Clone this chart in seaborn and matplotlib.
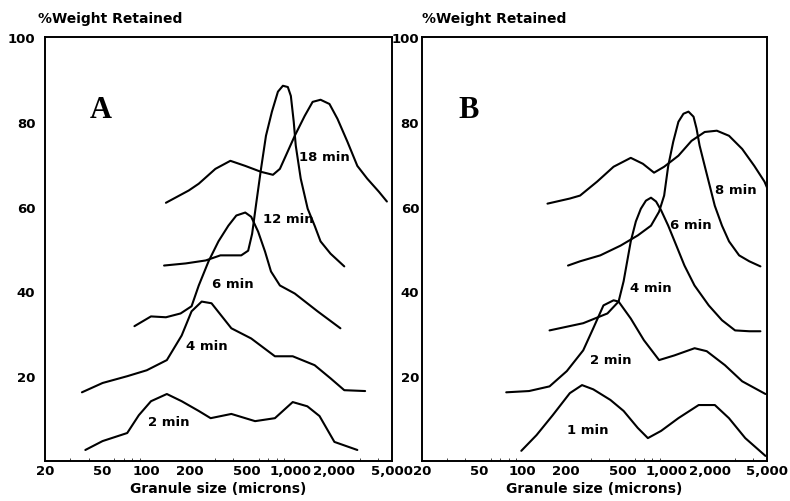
import pandas as pd
import numpy as np
import matplotlib
matplotlib.use('Agg')
import matplotlib.pyplot as plt
import seaborn as sns
from matplotlib.ticker import NullFormatter, FixedLocator

# Panel A  (granule size in microns, % weight retained)
a_2min_x = [38, 50, 74, 89, 108, 139, 176, 231, 279, 388, 566, 776, 1030, 1300, 1578, 2000, 2880]
a_2min_y = [2.6, 4.7, 6.6, 10.8, 14.1, 15.8, 14.1, 11.8, 10.1, 11.1, 9.4, 10.1, 13.9, 12.9, 10.6, 4.5, 2.6]

a_4min_x = [36, 50, 74, 101, 139, 176, 206, 242, 283, 388, 532, 776, 1030, 1460, 1880, 2340, 3260]
a_4min_y = [16.2, 18.4, 20.0, 21.4, 23.8, 29.6, 35.3, 37.6, 37.2, 31.3, 28.9, 24.7, 24.7, 22.6, 19.5, 16.7, 16.5]

a_6min_x = [83, 108, 137, 173, 206, 231, 270, 316, 370, 420, 484, 532, 594, 663, 729, 840, 1064, 1530, 2200]
a_6min_y = [31.8, 34.1, 33.9, 34.8, 36.5, 41.4, 47.1, 51.8, 55.5, 57.9, 58.6, 57.6, 54.1, 49.4, 44.7, 41.4, 39.5, 35.3, 31.3]

a_12min_x = [133, 188, 258, 326, 454, 507, 540, 576, 622, 673, 740, 814, 881, 953, 1000, 1047, 1081, 1170, 1307,
             1460, 1604, 1880, 2340]
a_12min_y = [46.1, 46.6, 47.3, 48.5, 48.5, 49.6, 53.6, 60.7, 68.9, 76.7, 82.4, 87.1, 88.5, 88.2, 86.1, 80.0, 74.4,
             66.6, 59.5, 55.5, 51.8, 48.9, 45.9]

a_18min_x = [137, 197, 231, 301, 382, 484, 622, 752, 840, 923, 1064, 1247, 1414, 1604, 1849, 2100, 2460, 2880,
             3370, 4060, 4610]
a_18min_y = [60.9, 63.8, 65.4, 68.9, 70.8, 69.6, 68.2, 67.5, 68.9, 72.0, 76.7, 81.4, 84.7, 85.2, 84.2, 80.7, 75.3,
             69.6, 66.6, 63.5, 61.2]

# Panel B
b_1min_x = [98, 125, 162, 213, 259, 310, 408, 504, 632, 743, 918, 1210, 1675, 2170, 2720, 3530, 4880]
b_1min_y = [2.4, 6.1, 10.8, 16.0, 17.9, 16.9, 14.4, 11.8, 7.8, 5.4, 7.1, 10.1, 13.2, 13.2, 10.1, 5.4, 1.2]

b_2min_x = [77, 111, 154, 203, 264, 310, 365, 429, 465, 565, 697, 889, 1135, 1570, 1905, 2550, 3360, 4880]
b_2min_y = [16.2, 16.5, 17.6, 21.2, 26.1, 31.3, 36.7, 37.9, 37.6, 33.6, 28.5, 23.8, 24.9, 26.6, 25.9, 22.6, 18.8, 15.8]

b_4min_x = [154, 264, 389, 465, 504, 565, 613, 664, 720, 781, 847, 919, 1029, 1172, 1334, 1567, 1968, 2433,
            3000, 3766, 4500]
b_4min_y = [30.8, 32.5, 34.8, 37.6, 42.4, 51.8, 56.5, 59.5, 61.4, 62.1, 61.2, 59.1, 55.5, 50.8, 46.1, 41.4, 36.7,
            33.2, 30.8, 30.6, 30.6]

b_6min_x = [207, 251, 347, 480, 632, 781, 889, 964, 1029, 1115, 1211, 1313, 1423, 1543, 1619, 1700, 1845, 2000,
            2168, 2433, 2723, 3200, 3766, 4500]
b_6min_y = [46.1, 47.1, 48.5, 50.8, 53.2, 55.5, 58.8, 62.6, 69.6, 75.3, 80.0, 81.9, 82.4, 81.2, 78.4, 74.4, 69.6,
            64.9, 60.2, 55.5, 51.8, 48.5, 47.1, 45.9]

b_8min_x = [149, 213, 251, 330, 429, 565, 686, 820, 964, 1211, 1493, 1845, 2240, 2723, 3360, 4080, 4800, 5000]
b_8min_y = [60.7, 61.9, 62.6, 65.9, 69.4, 71.5, 70.1, 68.0, 69.4, 72.0, 75.5, 77.6, 77.9, 76.7, 73.6, 69.6, 65.9,
            64.5]

# curve labels (text, x, y)
a_labels = [('2 min', 144, 9.2), ('4 min', 261, 27.3), ('6 min', 400, 41.9),
            ('12 min', 953, 57.2), ('18 min', 1710, 71.8)]
b_labels = [('1 min', 286, 7.5), ('2 min', 408, 24.0), ('4 min', 781, 40.9),
            ('6 min', 1470, 55.8), ('8 min', 3050, 64.0)]

x_ticks = [20, 50, 100, 200, 500, 1000, 2000, 5000]
x_ticklabels = ['20', '50', '100', '200', '500', '1,000', '2,000', '5,000']
y_ticks = [20, 40, 60, 80, 100]


def make_df(curves):
    rows = []
    for name, xs, ys in curves:
        for x, y in zip(xs, ys):
            rows.append({'size': x, 'pct': y, 'curve': name})
    return pd.DataFrame(rows)


df_a = make_df([('2', a_2min_x, a_2min_y), ('4', a_4min_x, a_4min_y),
                ('6', a_6min_x, a_6min_y), ('12', a_12min_x, a_12min_y),
                ('18', a_18min_x, a_18min_y)])
df_b = make_df([('1', b_1min_x, b_1min_y), ('2', b_2min_x, b_2min_y),
                ('4', b_4min_x, b_4min_y), ('6', b_6min_x, b_6min_y),
                ('8', b_8min_x, b_8min_y)])

sns.set_theme(style='white')
plt.rcParams['font.family'] = ['DejaVu Sans']
plt.rcParams['text.color'] = 'black'
plt.rcParams['axes.labelcolor'] = 'black'

fig = plt.figure(figsize=(7.9, 5.02), dpi=100)
W, H = 790, 502
ax_a = fig.add_axes([45 / W, 1 - 462 / H, (392 - 45) / W, (462 - 38) / H])
ax_b = fig.add_axes([422 / W, 1 - 462 / H, (767 - 422) / W, (462 - 38) / H])

for ax, df, labels, letter, ypad in [(ax_a, df_a, a_labels, 'A', 7), (ax_b, df_b, b_labels, 'B', 2)]:
    sns.lineplot(data=df, x='size', y='pct', units='curve', estimator=None,
                 sort=False, color='black', linewidth=1.5, ax=ax,
                 solid_joinstyle='round', solid_capstyle='round')
    ax.set_xscale('log')
    ax.set_xlim(20, 5000)
    ax.set_ylim(0, 100)
    ax.xaxis.set_major_locator(FixedLocator(x_ticks))
    ax.set_xticklabels(x_ticklabels)
    ax.xaxis.set_minor_formatter(NullFormatter())
    ax.set_yticks(y_ticks)
    ax.set_yticklabels([str(t) for t in y_ticks])
    ax.tick_params(axis='both', which='major', direction='in', length=3, width=0.8,
                   labelsize=9.5, colors='black')
    ax.tick_params(axis='x', which='minor', direction='in', length=2, width=0.6,
                   bottom=True)
    ax.tick_params(axis='x', which='major', pad=2)
    ax.tick_params(axis='y', which='major', pad=ypad)
    for lab in ax.get_xticklabels() + ax.get_yticklabels():
        lab.set_fontweight('bold')
    for sp in ax.spines.values():
        sp.set_visible(True)
        sp.set_color('black')
        sp.set_linewidth(1.4)
    ax.set_xlabel('Granule size (microns)', fontsize=10, fontweight='bold', labelpad=3,
                  color='black')
    ax.set_ylabel('')
    ax.set_facecolor('white')
    for txt, x, y in labels:
        ax.text(x, y, txt, fontsize=9.5, fontweight='bold', ha='center', va='center',
                color='black')
    ax.text(0.16 if letter == 'A' else 0.135, 0.83, letter, transform=ax.transAxes,
            fontsize=22, fontweight='bold', family=['Liberation Serif', 'DejaVu Serif'],
            ha='center', va='center', color='black')

fig.text(38 / W, 1 - 19 / H, '%Weight Retained', fontsize=10, fontweight='bold',
         ha='left', va='center', color='black')
fig.text(422 / W, 1 - 19 / H, '%Weight Retained', fontsize=10, fontweight='bold',
         ha='left', va='center', color='black')

fig.savefig('out.png', dpi=100, facecolor='white')
